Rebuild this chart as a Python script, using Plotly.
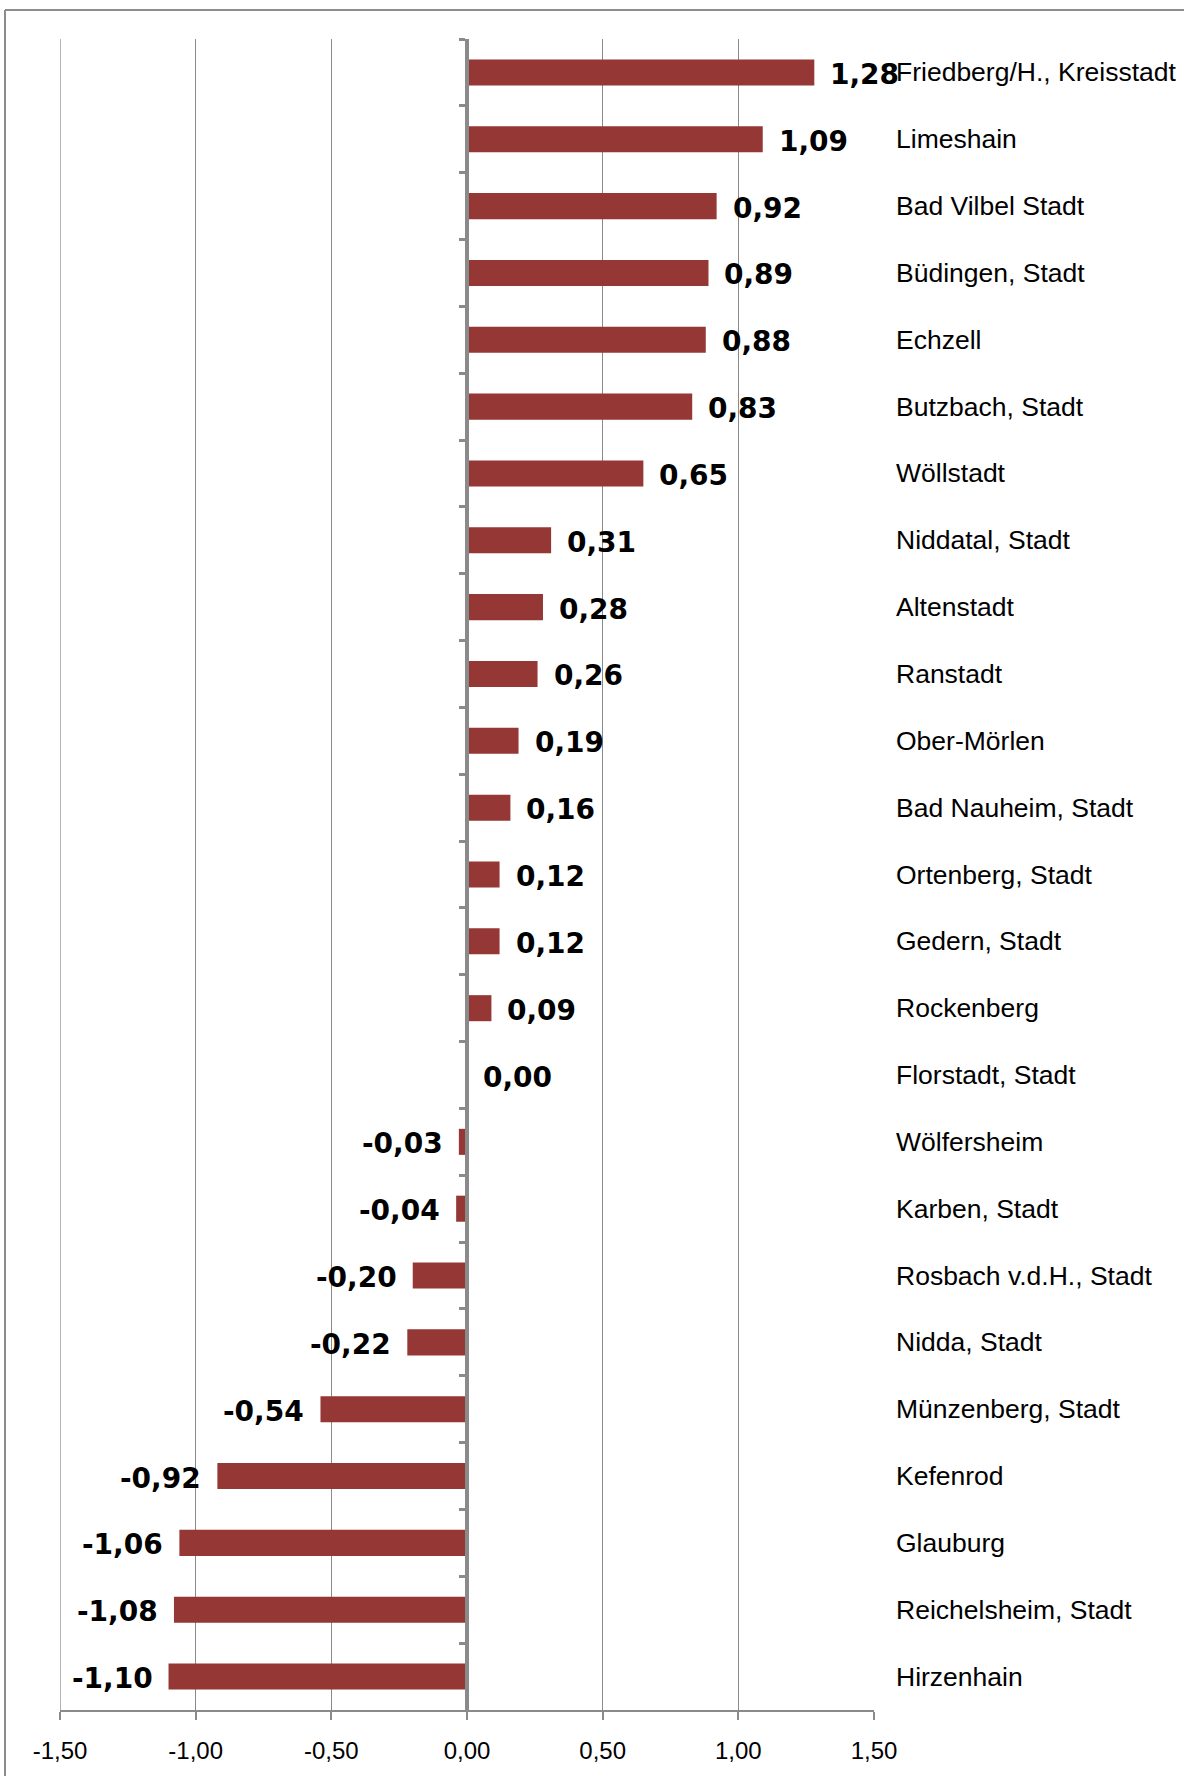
import plotly.graph_objects as go

categories = [
    "Friedberg/H., Kreisstadt", "Limeshain", "Bad Vilbel Stadt", "Büdingen, Stadt",
    "Echzell", "Butzbach, Stadt", "Wöllstadt", "Niddatal, Stadt", "Altenstadt",
    "Ranstadt", "Ober-Mörlen", "Bad Nauheim, Stadt", "Ortenberg, Stadt",
    "Gedern, Stadt", "Rockenberg", "Florstadt, Stadt", "Wölfersheim",
    "Karben, Stadt", "Rosbach v.d.H., Stadt", "Nidda, Stadt",
    "Münzenberg, Stadt", "Kefenrod", "Glauburg", "Reichelsheim, Stadt", "Hirzenhain",
]
values = [1.28, 1.09, 0.92, 0.89, 0.88, 0.83, 0.65, 0.31, 0.28, 0.26, 0.19, 0.16,
          0.12, 0.12, 0.09, 0.00, -0.03, -0.04, -0.20, -0.22, -0.54, -0.92,
          -1.06, -1.08, -1.10]
x_ticks = [-1.5, -1.0, -0.5, 0.0, 0.5, 1.0, 1.5]
x_tick_labels = ["-1,50", "-1,00", "-0,50", "0,00", "0,50", "1,00", "1,50"]

W, H = 1184, 1776
ML, MR, MT, MB = 60, 310, 39, 59
plot_w = W - ML - MR
plot_h = H - MT - MB

BAR = "#953735"
GRID = "#8a8a8a"

fig = go.Figure(go.Bar(
    y=categories, x=values, orientation="h",
    marker=dict(color=BAR, line=dict(width=0)),
    width=0.39,
    hoverinfo="skip",
))

ann = []
for c, v in zip(categories, values):
    t = "<b>" + f"{v:.2f}".replace(".", ",") + "</b>"
    pos = v >= 0
    ann.append(dict(x=v, y=c, xref="x", yref="y", text=t, showarrow=False,
                    xanchor="left" if pos else "right",
                    xshift=14 if pos else -14, yshift=-2,
                    font=dict(family="DejaVu Sans", size=28, color="#000000")))
    ann.append(dict(x=1, y=c, xref="paper", yref="y", text=c, showarrow=False,
                    xanchor="left", xshift=20,
                    font=dict(family="Liberation Sans", size=26.5, color="#000000")))

# outer border (frame of the chart area)
bx0 = (5 - ML) / plot_w
by1 = (H - MB - 10) / plot_h
shapes = [
    dict(type="line", xref="paper", yref="paper", x0=bx0, x1=2, y0=by1, y1=by1,
         line=dict(color="#8c8c8c", width=2)),
    dict(type="line", xref="paper", yref="paper", x0=bx0, x1=bx0, y0=-1, y1=by1,
         line=dict(color="#8c8c8c", width=2)),
    # gridline at the left edge of the value axis
    dict(type="line", xref="x", yref="paper", x0=x_ticks[0], x1=x_ticks[0], y0=0, y1=1,
         line=dict(color=GRID, width=1.3), layer="below"),
]

fig.update_layout(
    width=W, height=H,
    margin=dict(l=ML, r=MR, t=MT, b=MB),
    paper_bgcolor="white", plot_bgcolor="white",
    showlegend=False,
    annotations=ann,
    shapes=shapes,
    xaxis=dict(
        range=[x_ticks[0], x_ticks[-1]], tickvals=x_ticks, ticktext=x_tick_labels,
        showgrid=True, gridcolor=GRID, gridwidth=1.3,
        zeroline=False,
        showline=True, linecolor=GRID, linewidth=2,
        ticks="outside", ticklen=8, tickwidth=1.5, tickcolor=GRID,
        ticklabelstandoff=10,
        tickfont=dict(family="Liberation Sans", size=24, color="#000000"),
        fixedrange=True,
    ),
    yaxis=dict(
        type="category", categoryorder="array", categoryarray=categories,
        range=[len(categories) - 0.5, -0.5],
        anchor="free", position=0.5,
        showgrid=False, zeroline=False,
        showline=True, linecolor="#8a8a8a", linewidth=4,
        ticks="outside", tickson="boundaries", ticklen=6, tickwidth=3, tickcolor="#8a8a8a",
        showticklabels=False,
        fixedrange=True,
    ),
)

fig.write_html("out.html", config={"displayModeBar": False},
               post_script="document.body.style.margin='0';")
